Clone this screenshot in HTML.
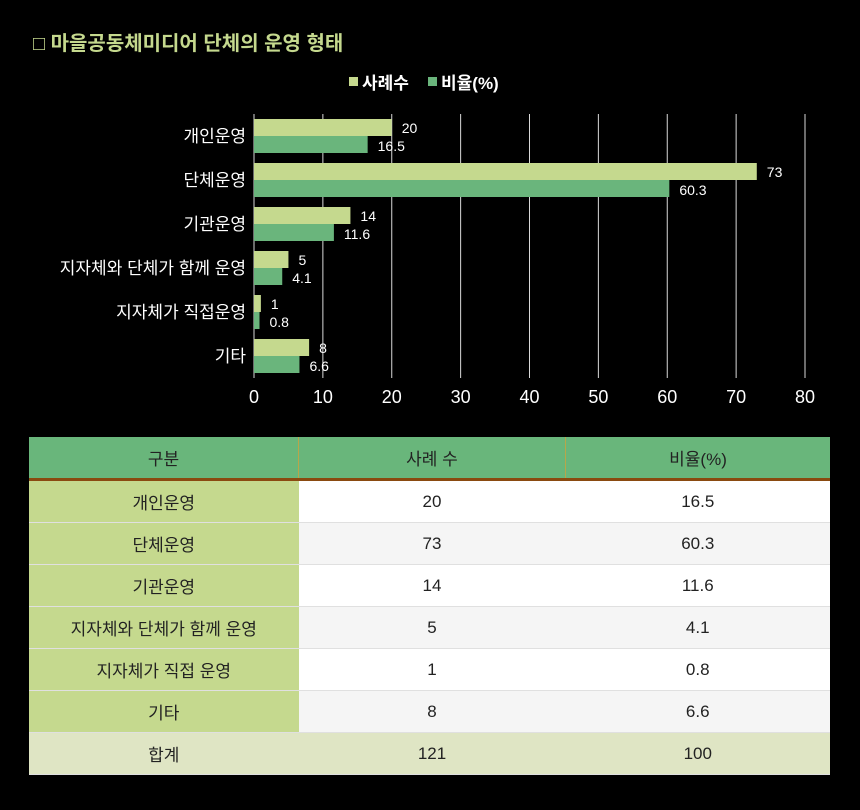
<!DOCTYPE html>
<html><head><meta charset="utf-8"><style>
body{margin:0;background:#000;width:860px;height:810px;overflow:hidden;font-family:"Liberation Sans","Noto Sans CJK KR",sans-serif;}
#title{position:absolute;left:33px;top:27px;color:#c5d98e;font-size:20px;font-weight:bold;}
svg{position:absolute;left:0;top:0}
table{position:absolute;left:29px;top:437px;width:801px;border-collapse:collapse;font-size:17px;color:#222}
td,th{height:41px;text-align:center;font-weight:normal;border-bottom:1px solid #e0e0e0;padding:0;background:#fff}
th{background:#69b67b;border-right:1px solid #b8a64a;border-bottom:3px solid #8a4a10;color:#222}
td.c{background:#c5d98e;width:269px}
tr.alt td{background:#f5f5f5}
tr.alt td.c{background:#c5d98e}
tr.tot td{background:#dfe5c4}
</style></head><body>
<div id="title">□ 마을공동체미디어 단체의 운영 형태</div>
<svg id="chart" width="860" height="430"></svg>
<table>
<tr><th style="width:269px">구분</th><th style="width:266px">사례 수</th><th style="border-right:none">비율(%)</th></tr>
<tr><td class="c">개인운영</td><td>20</td><td>16.5</td></tr>
<tr class="alt"><td class="c">단체운영</td><td>73</td><td>60.3</td></tr>
<tr><td class="c">기관운영</td><td>14</td><td>11.6</td></tr>
<tr class="alt"><td class="c">지자체와 단체가 함께 운영</td><td>5</td><td>4.1</td></tr>
<tr><td class="c">지자체가 직접 운영</td><td>1</td><td>0.8</td></tr>
<tr class="alt"><td class="c">기타</td><td>8</td><td>6.6</td></tr>
<tr class="tot"><td>합계</td><td>121</td><td>100</td></tr>
</table>
<script>
const categories=["개인운영","단체운영","기관운영","지자체와 단체가 함께 운영","지자체가 직접운영","기타"];
const counts=[20,73,14,5,1,8];
const ratios=[16.5,60.3,11.6,4.1,0.8,6.6];
const ticks=[0,10,20,30,40,50,60,70,80];
const svg=document.getElementById('chart');
const NS='http://www.w3.org/2000/svg';
const x0=254,x1=805,plotTop=114,plotBottom=378;
const xs=v=>x0+(v/80)*(x1-x0);
const band=(plotBottom-plotTop)/categories.length;
function mk(t,a){const e=document.createElementNS(NS,t);for(const k in a)e.setAttribute(k,a[k]);svg.appendChild(e);return e;}
ticks.forEach(t=>{
 const l=mk('line',{x1:xs(t),x2:xs(t),y1:plotTop,y2:plotBottom,stroke:'#d9d9d9','stroke-width':1});
 
 
 const tx=mk('text',{x:xs(t),y:403,fill:'#fff','font-size':18,'text-anchor':'middle'});
 tx.textContent=t;
 
 
});
categories.forEach((c,i)=>{
 const cy=plotTop+band*i+band/2;
 const lab=mk('text',{x:246,y:cy+6,fill:'#fff','font-size':17,'text-anchor':'end'});
 lab.textContent=c;
 
 
 const b1=mk('rect',{x:x0,y:cy-17,width:xs(counts[i])-x0,height:17,fill:'#c5d98e'});
 
 
 const b2=mk('rect',{x:x0,y:cy,width:xs(ratios[i])-x0,height:17,fill:'#6ab57c'});
 
 
 const t1=mk('text',{x:xs(counts[i])+10,y:cy-3,fill:'#fff','font-size':14});
 t1.textContent=counts[i];
 
 
 const t2=mk('text',{x:xs(ratios[i])+10,y:cy+15,fill:'#fff','font-size':14});
 t2.textContent=ratios[i];
 
 
});
const lg=[['사례수','#c5d98e',349],['비율(%)','#6ab57c',428]];
lg.forEach(([n,c,x])=>{
 const r=mk('rect',{x:x,y:77,width:9,height:9,fill:c});
 
 
 const t=mk('text',{x:x+13,y:89,fill:'#fff','font-size':17,'font-weight':'bold'});
 t.textContent=n;
 
 
});
</script>
</body></html>
